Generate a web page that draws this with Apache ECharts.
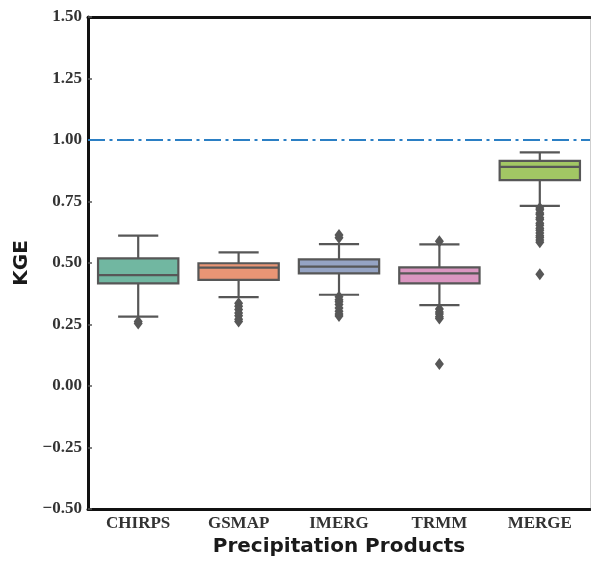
<!DOCTYPE html>
<html>
<head>
<meta charset="utf-8">
<script src="https://cdn.jsdelivr.net/npm/echarts@6/dist/echarts.min.js"></script>
<style>
  html, body { margin: 0; padding: 0; background: #fff; }
  #main { width: 591px; height: 563px; }
</style>
</head>
<body>
<div id="main"></div>
<script>
// data
var categories = ['CHIRPS', 'GSMAP', 'IMERG', 'TRMM', 'MERGE'];
var whiskerLow = [0.282, 0.361, 0.371, 0.329, 0.732];
var q1 = [0.417, 0.431, 0.458, 0.417, 0.837];
var median = [0.451, 0.481, 0.485, 0.458, 0.891];
var q3 = [0.519, 0.499, 0.515, 0.482, 0.915];
var whiskerHigh = [0.611, 0.543, 0.577, 0.576, 0.950];
var outliers = [
    [0.262, 0.254],
    [0.336, 0.324, 0.311, 0.297, 0.286, 0.271, 0.262],
    [0.614, 0.603, 0.363, 0.351, 0.342, 0.331, 0.317, 0.304, 0.293, 0.285],
    [0.588, 0.313, 0.301, 0.293, 0.281, 0.274, 0.089],
    [0.724, 0.716, 0.703, 0.697, 0.684, 0.677, 0.662, 0.653, 0.641, 0.633, 0.622, 0.611, 0.604, 0.593, 0.584, 0.454]
];
var refLine = 1.0;
var yTicks = { min: -0.5, max: 1.5, interval: 0.25 };

var boxColors = ['#71b7a1', '#e99575', '#95a3c3', '#db96c1', '#a2c764'];
var lineGray = '#575757';

var boxData = categories.map(function (c, i) {
    return [i, whiskerLow[i], q1[i], median[i], q3[i], whiskerHigh[i]];
});
var outlierData = [];
outliers.forEach(function (arr, i) {
    arr.forEach(function (v) { outlierData.push([i, v]); });
});

var myChart = echarts.init(document.getElementById('main'));

function renderBox(params, api) {
    var idx = api.value(0);
    var pLow = api.coord([idx, api.value(1)]);
    var pQ1 = api.coord([idx, api.value(2)]);
    var pMed = api.coord([idx, api.value(3)]);
    var pQ3 = api.coord([idx, api.value(4)]);
    var pHigh = api.coord([idx, api.value(5)]);
    var bw = api.size([1, 0])[0] * 0.8;
    var cx = pMed[0];
    var lineStyle = { stroke: lineGray, lineWidth: 2.2, fill: null };
    return {
        type: 'group',
        children: [
            { type: 'line', shape: { x1: cx, y1: pQ3[1], x2: cx, y2: pHigh[1] }, style: lineStyle },
            { type: 'line', shape: { x1: cx, y1: pQ1[1], x2: cx, y2: pLow[1] }, style: lineStyle },
            { type: 'line', shape: { x1: cx - bw / 4, y1: pHigh[1], x2: cx + bw / 4, y2: pHigh[1] }, style: lineStyle },
            { type: 'line', shape: { x1: cx - bw / 4, y1: pLow[1], x2: cx + bw / 4, y2: pLow[1] }, style: lineStyle },
            {
                type: 'rect',
                shape: { x: cx - bw / 2, y: pQ3[1], width: bw, height: pQ1[1] - pQ3[1] },
                style: { fill: boxColors[idx], stroke: lineGray, lineWidth: 2.2 }
            },
            { type: 'line', shape: { x1: cx - bw / 2, y1: pMed[1], x2: cx + bw / 2, y2: pMed[1] }, style: lineStyle }
        ]
    };
}

var option = {
    animation: false,
    grid: { left: 88, right: 1, top: 17, bottom: 54 },
    xAxis: [{
        type: 'category',
        data: categories,
        name: 'Precipitation Products',
        nameLocation: 'middle',
        nameGap: 28,
        nameTextStyle: { fontFamily: 'DejaVu Sans', fontWeight: 'bold', fontSize: 20, color: '#1a1a1a' },
        axisLine: { onZero: false, lineStyle: { color: '#111', width: 3 } },
        axisTick: { inside: true, alignWithLabel: true, length: 4, lineStyle: { color: '#555', width: 1.5 } },
        axisLabel: { margin: 6, fontFamily: 'Liberation Serif', fontWeight: 'bold', fontSize: 17, color: '#333' },
        splitLine: { show: false }
    }, {
        type: 'category',
        position: 'top',
        data: categories,
        axisLine: { onZero: false, lineStyle: { color: '#111', width: 3 } },
        axisTick: { show: false },
        axisLabel: { show: false }
    }],
    yAxis: [{
        type: 'value',
        min: yTicks.min,
        max: yTicks.max,
        interval: yTicks.interval,
        name: 'KGE',
        nameLocation: 'middle',
        nameGap: 54,
        nameTextStyle: { fontFamily: 'DejaVu Sans', fontWeight: 'bold', fontSize: 20, color: '#1a1a1a' },
        axisLine: { show: true, onZero: false, lineStyle: { color: '#111', width: 3 } },
        axisTick: { show: true, inside: true, length: 4, lineStyle: { color: '#555', width: 1.5 } },
        axisLabel: {
            margin: 6,
            fontFamily: 'Liberation Serif', fontWeight: 'bold', fontSize: 17, color: '#333',
            formatter: function (v) { return v.toFixed(2).replace('-', '\u2212'); }
        },
        splitLine: { show: false }
    }, {
        type: 'value',
        position: 'right',
        min: yTicks.min,
        max: yTicks.max,
        interval: yTicks.interval,
        axisLine: { show: true, onZero: false, lineStyle: { color: '#cfcfcf', width: 1 } },
        axisTick: { show: false },
        axisLabel: { show: false },
        splitLine: { show: false }
    }],
    series: [{
        type: 'custom',
        renderItem: renderBox,
        data: boxData,
        encode: { x: 0, y: [1, 2, 3, 4, 5] },
        z: 3,
        markLine: {
            silent: true,
            symbol: ['none', 'none'],
            label: { show: false },
            lineStyle: { color: '#2b7fc4', width: 2.2, type: [17, 4.5, 3, 4.5] },
            data: [{ yAxis: refLine }]
        }
    }, {
        type: 'scatter',
        data: outlierData,
        symbol: 'diamond',
        symbolSize: [9, 12],
        itemStyle: { color: lineGray, opacity: 1 },
        z: 4
    }]
};
myChart.setOption(option);
</script>
</body>
</html>
